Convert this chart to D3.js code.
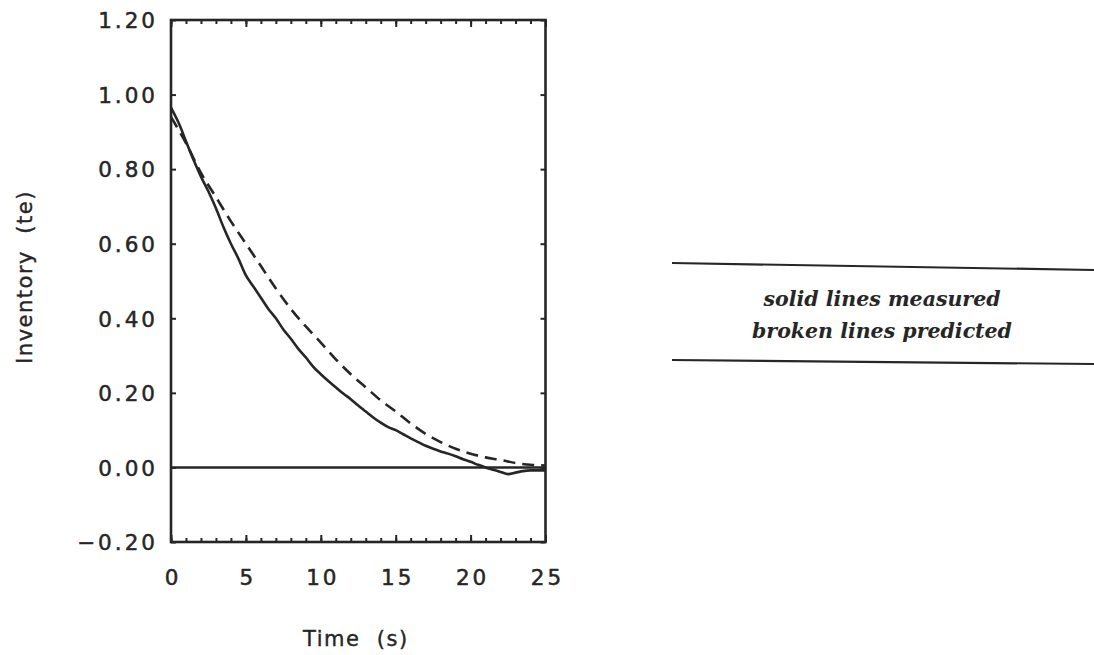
<!DOCTYPE html>
<html>
<head>
<meta charset="utf-8">
<script src="https://cdn.jsdelivr.net/npm/d3@7"></script>
<style>
  html, body { margin: 0; padding: 0; background: #fff; }
  svg { display: block; }
</style>
</head>
<body>
<svg id="chart" width="1094" height="655"></svg>
<script>
// Inventory blow-down: measured trace (solid) and model prediction (dashed)
const timeMeasured = [0, 0.5, 1, 1.5, 2, 2.5, 3, 3.5, 4, 4.5, 5, 5.5, 6, 6.5, 7, 7.5, 8, 8.5, 9, 9.5,
  10, 10.5, 11, 11.5, 12, 12.5, 13, 13.5, 14, 14.5, 15, 15.5, 16, 16.5, 17, 17.5, 18, 18.5, 19, 19.5,
  20, 20.5, 21, 21.5, 22, 22.5, 23, 23.5, 24, 24.5, 25];
const inventoryMeasured = [0.965, 0.925, 0.875, 0.825, 0.78, 0.74, 0.695, 0.645, 0.60, 0.56,
  0.515, 0.485, 0.455, 0.425, 0.40, 0.37, 0.345, 0.318, 0.295, 0.27,
  0.25, 0.232, 0.215, 0.198, 0.183, 0.166, 0.15, 0.134, 0.12, 0.108,
  0.10, 0.089, 0.078, 0.068, 0.058, 0.05, 0.043, 0.037, 0.03, 0.022,
  0.015, 0.007, 0.0, -0.006, -0.012, -0.018, -0.014, -0.01, -0.008, -0.008, -0.008];

const timePredicted = [0, 1, 2, 3, 4, 5, 6, 7, 8, 9, 10, 11, 12, 13, 14, 15, 16, 17, 18, 19, 20, 21, 22, 23, 24, 25];
const inventoryPredicted = [0.94, 0.87, 0.79, 0.725, 0.66, 0.60, 0.54, 0.48, 0.425, 0.378,
  0.335, 0.29, 0.25, 0.215, 0.18, 0.15, 0.118, 0.09, 0.068, 0.05,
  0.037, 0.027, 0.02, 0.012, 0.007, 0.005];

// zero datum line
const timeZero = [0, 25];
const inventoryZero = [0, 0];

const xMajorTicks = [0, 5, 10, 15, 20, 25];
const xMinorTicks = d3.range(0, 26, 1);
const yTicks = [-0.2, 0, 0.2, 0.4, 0.6, 0.8, 1.0, 1.2];
const yTickLabels = ["\u22120.20", "0.00", "0.20", "0.40", "0.60", "0.80", "1.00", "1.20"];

const legendLines = ["solid lines measured", "broken lines predicted"];

const ink = "#262626";
const svg = d3.select("#chart");

const plotLeft = 171, plotRight = 545.5, plotTop = 20, plotBottom = 542;
const x = d3.scaleLinear().domain([0, 25]).range([plotLeft, plotRight]);
const y = d3.scaleLinear().domain([-0.2, 1.2]).range([plotBottom, plotTop]);

const tickFont = "'DejaVu Sans', Verdana, sans-serif";
const tickSize = 21.5;
const spacing = 3;

function styleAxis(g) {
  g.select(".domain").remove();
  g.selectAll(".tick line").attr("stroke", ink).attr("stroke-width", 2);
}

function styleLabels(sel) {
  sel.attr("fill", ink).attr("stroke", ink).attr("stroke-width", 0.5)
    .attr("font-family", tickFont).attr("font-size", tickSize)
    .attr("letter-spacing", spacing);
}

// bottom axis: minor + major ticks pointing inward, labels below
svg.append("g").attr("transform", `translate(0,${plotBottom})`)
  .call(d3.axisBottom(x).tickValues(xMinorTicks).tickSize(-4).tickFormat(""))
  .call(styleAxis);
svg.append("g").attr("transform", `translate(0,${plotBottom})`)
  .call(d3.axisBottom(x).tickValues(xMajorTicks).tickSize(-7).tickPadding(28).tickFormat(d3.format("d")))
  .call(styleAxis)
  .call(g => g.selectAll(".tick text").call(styleLabels).attr("dx", spacing / 2));

// top axis: ticks only
svg.append("g").attr("transform", `translate(0,${plotTop})`)
  .call(d3.axisTop(x).tickValues(xMinorTicks).tickSize(-4).tickFormat(""))
  .call(styleAxis);
svg.append("g").attr("transform", `translate(0,${plotTop})`)
  .call(d3.axisTop(x).tickValues(xMajorTicks).tickSize(-7).tickFormat(""))
  .call(styleAxis);

// left axis with labels
svg.append("g").attr("transform", `translate(${plotLeft},0)`)
  .call(d3.axisLeft(y).tickValues(yTicks).tickSize(-5).tickPadding(16 - spacing)
    .tickFormat((d, i) => yTickLabels[i]))
  .call(styleAxis)
  .call(g => g.selectAll(".tick text").call(styleLabels).attr("dy", "0.36em"));

// right axis: ticks only
svg.append("g").attr("transform", `translate(${plotRight},0)`)
  .call(d3.axisRight(y).tickValues(yTicks).tickSize(-5).tickFormat(""))
  .call(styleAxis);

// plot frame
svg.append("rect")
  .attr("x", plotLeft).attr("y", plotTop)
  .attr("width", plotRight - plotLeft).attr("height", plotBottom - plotTop)
  .attr("fill", "none").attr("stroke", ink).attr("stroke-width", 2.6);

const line = d3.line().curve(d3.curveMonotoneX);

// zero datum
svg.append("path")
  .attr("d", line(timeZero.map((t, i) => [x(t), y(inventoryZero[i])])))
  .attr("fill", "none").attr("stroke", ink).attr("stroke-width", 2.4);

// predicted (broken line)
svg.append("path")
  .attr("d", line(timePredicted.map((t, i) => [x(t), y(inventoryPredicted[i])])))
  .attr("fill", "none").attr("stroke", ink).attr("stroke-width", 2.6)
  .attr("stroke-dasharray", "12,7");

// measured (solid line)
svg.append("path")
  .attr("d", d3.line().curve(d3.curveCatmullRom)(timeMeasured.map((t, i) => [x(t), y(inventoryMeasured[i])])))
  .attr("fill", "none").attr("stroke", ink).attr("stroke-width", 2.6);

// axis titles
svg.append("text")
  .attr("x", 303).attr("y", 646)
  .attr("font-family", tickFont).attr("font-size", 21).attr("fill", ink)
  .attr("stroke", ink).attr("stroke-width", 0.4)
  .attr("letter-spacing", 1.5)
  .attr("xml:space", "preserve")
  .text("Time  (s)");

svg.append("text")
  .attr("transform", "translate(32,277) rotate(-90)")
  .attr("text-anchor", "middle")
  .attr("font-family", tickFont).attr("font-size", 21).attr("fill", ink)
  .attr("stroke", ink).attr("stroke-width", 0.4)
  .attr("letter-spacing", 1.5)
  .attr("xml:space", "preserve")
  .text("Inventory  (te)");

// legend box: two rules with caption between
svg.append("line").attr("x1", 672).attr("y1", 263).attr("x2", 1094).attr("y2", 270)
  .attr("stroke", ink).attr("stroke-width", 2.2);
svg.append("line").attr("x1", 672).attr("y1", 360).attr("x2", 1094).attr("y2", 364)
  .attr("stroke", ink).attr("stroke-width", 2.2);

svg.selectAll("text.legend")
  .data(legendLines)
  .join("text")
  .attr("class", "legend")
  .attr("x", 882)
  .attr("y", (d, i) => 306 + i * 32)
  .attr("text-anchor", "middle")
  .attr("font-family", "'DejaVu Serif', 'Liberation Serif', serif")
  .attr("font-style", "italic")
  .attr("font-weight", "bold")
  .attr("font-size", 20.5)
  .attr("fill", ink)
  .text(d => d);
</script>
</body>
</html>
